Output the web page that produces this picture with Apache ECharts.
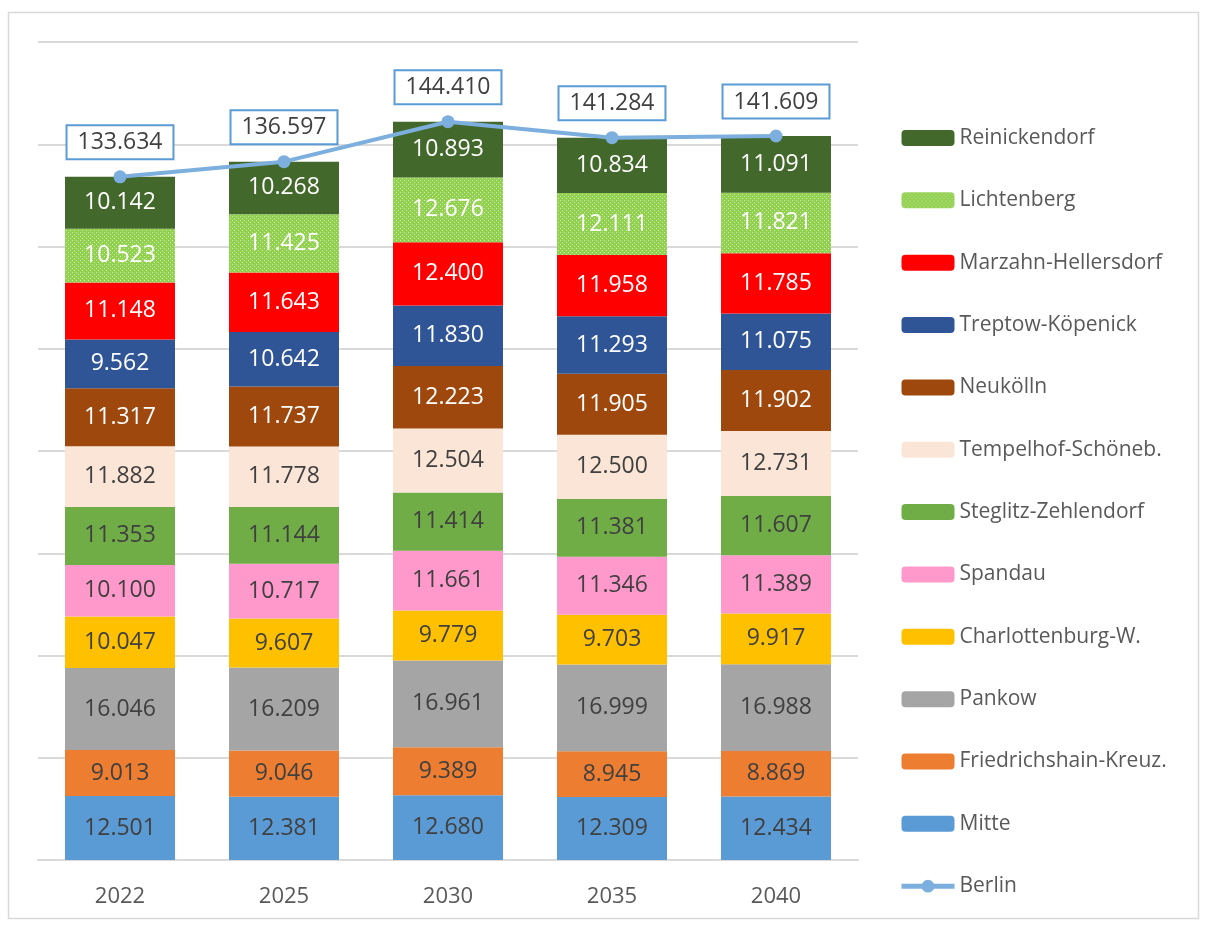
<!DOCTYPE html>
<html>
<head>
<meta charset="utf-8">
<script src="https://cdn.jsdelivr.net/npm/echarts@6/dist/echarts.min.js"></script>
<style>
  html, body { margin: 0; padding: 0; background: #fff; }
  #chart { width: 1209px; height: 926px; }
</style>
</head>
<body>
<div id="chart"></div>
<script>
var years = ['2022', '2025', '2030', '2035', '2040'];

var mitte = [12501, 12381, 12680, 12309, 12434];
var friedrichshain = [9013, 9046, 9389, 8945, 8869];
var pankow = [16046, 16209, 16961, 16999, 16988];
var charlottenburg = [10047, 9607, 9779, 9703, 9917];
var spandau = [10100, 10717, 11661, 11346, 11389];
var steglitz = [11353, 11144, 11414, 11381, 11607];
var tempelhof = [11882, 11778, 12504, 12500, 12731];
var neukoelln = [11317, 11737, 12223, 11905, 11902];
var treptow = [9562, 10642, 11830, 11293, 11075];
var marzahn = [11148, 11643, 12400, 11958, 11785];
var lichtenberg = [10523, 11425, 12676, 12111, 11821];
var reinickendorf = [10142, 10268, 10893, 10834, 11091];
var berlin = [133634, 136597, 144410, 141284, 141609];

// dotted fill for Lichtenberg
var pat = document.createElement('canvas');
pat.width = 4; pat.height = 4;
var pc = pat.getContext('2d');
pc.fillStyle = '#92D050';
pc.fillRect(0, 0, 4, 4);
pc.fillStyle = 'rgba(255,255,255,0.55)';
pc.fillRect(0, 0, 1, 1);
pc.fillRect(2, 2, 1, 1);

function fmt(v) {
  return String(v).replace(/\B(?=(\d{3})+(?!\d))/g, '.');
}

var districts = [
  { name: 'Mitte', data: mitte, color: '#5B9BD5', text: '#404040' },
  { name: 'Friedrichshain-Kreuz.', data: friedrichshain, color: '#ED7D31', text: '#404040' },
  { name: 'Pankow', data: pankow, color: '#A5A5A5', text: '#404040' },
  { name: 'Charlottenburg-W.', data: charlottenburg, color: '#FFC000', text: '#404040' },
  { name: 'Spandau', data: spandau, color: '#FF99CC', text: '#404040' },
  { name: 'Steglitz-Zehlendorf', data: steglitz, color: '#70AD47', text: '#404040' },
  { name: 'Tempelhof-Schöneb.', data: tempelhof, color: '#FBE5D6', text: '#404040' },
  { name: 'Neukölln', data: neukoelln, color: '#9E480E', text: '#ffffff' },
  { name: 'Treptow-Köpenick', data: treptow, color: '#2F5597', text: '#ffffff' },
  { name: 'Marzahn-Hellersdorf', data: marzahn, color: '#FF0000', text: '#ffffff' },
  { name: 'Lichtenberg', data: lichtenberg, color: { image: pat, repeat: 'repeat' }, text: '#ffffff' },
  { name: 'Reinickendorf', data: reinickendorf, color: '#43682B', text: '#ffffff' }
];

var font = '"Open Sans", "Noto Sans", sans-serif';

var series = districts.map(function (d) {
  return {
    name: d.name,
    type: 'bar',
    stack: 'total',
    barWidth: 110,
    data: d.data,
    itemStyle: { color: d.color },
    label: {
      show: true,
      position: 'inside',
      color: d.text,
      fontSize: 23,
      fontFamily: font,
      formatter: function (p) { return fmt(p.value); }
    }
  };
});

series.push({
  name: 'Berlin',
  type: 'line',
  data: berlin,
  z: 5,
  symbol: 'circle',
  symbolSize: 13,
  lineStyle: { color: '#7CAFDD', width: 4 },
  itemStyle: { color: '#7CAFDD' },
  label: {
    show: true,
    position: 'top',
    distance: 12,
    color: '#404040',
    fontSize: 23,
    fontFamily: font,
    backgroundColor: '#ffffff',
    borderColor: '#5B9BD5',
    borderWidth: 2,
    padding: [5, 10, 4, 10],
    formatter: function (p) { return fmt(p.value); }
  }
});

var legendNames = districts.map(function (d) { return d.name; }).reverse();
legendNames.push('Berlin');

var chart = echarts.init(document.getElementById('chart'));
chart.setOption({
  animation: false,
  backgroundColor: '#ffffff',
  graphic: [{
    type: 'rect',
    shape: { x: 8.5, y: 12.5, width: 1190, height: 906 },
    style: { fill: 'none', stroke: '#D9D9D9', lineWidth: 1.5 },
    silent: true
  }],
  grid: { left: 38, right: 351, top: 42, bottom: 66 },
  legend: {
    orient: 'vertical',
    left: 899,
    top: 127,
    padding: 0,
    itemWidth: 53,
    itemHeight: 16,
    itemGap: 40.35,
    data: legendNames,
    lineStyle: { width: 5 },
    textStyle: { color: '#595959', fontSize: 21, fontFamily: font, lineHeight: 22 }
  },
  xAxis: {
    type: 'category',
    data: years,
    axisTick: { show: false },
    axisLine: { lineStyle: { color: '#D9D9D9', width: 2 } },
    axisLabel: { color: '#595959', fontSize: 22, fontFamily: font, margin: 26 }
  },
  yAxis: {
    type: 'value',
    min: 0,
    max: 160000,
    interval: 20000,
    axisLabel: { show: false },
    axisLine: { show: false },
    axisTick: { show: false },
    splitLine: { lineStyle: { color: '#D9D9D9', width: 2 } }
  },
  series: series
});
</script>
</body>
</html>
